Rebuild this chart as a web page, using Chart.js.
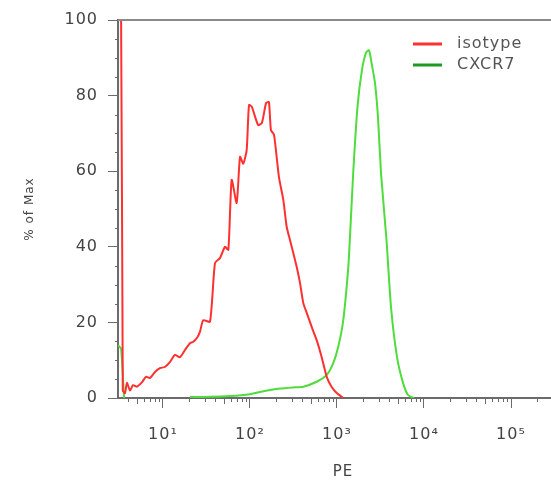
<!DOCTYPE html>
<html>
<head>
<meta charset="utf-8">
<script src="https://cdn.jsdelivr.net/npm/chart.js@4.4.0/dist/chart.umd.min.js"></script>
<style>
  html, body { margin: 0; padding: 0; background: #fff; overflow: hidden; }
</style>
</head>
<body>
<canvas id="chart" width="568" height="482"></canvas>
<script>
// PE intensity (x) and % of Max (y)
const isotypeX = [3.04, 3.3, 3.45, 3.66, 3.85, 4.18, 4.52, 5.03, 5.74, 6.38, 7.09, 8.09, 9.24, 10.5, 12.0, 13.7, 15.7, 17.9, 20.4, 22.1,
    24.4, 26.6, 29.0, 34.7, 39.6, 45.2, 51.6, 56.4, 61.6, 70.3, 76.8, 83.7, 91.6, 97.4, 105, 124, 137, 153, 165, 174,
    189, 215, 241.5, 264, 288, 315, 344, 376, 410, 449, 512, 584, 667, 762, 869, 993, 1181];
const isotypeY = [100, 100, 2, 1.3, 4, 2, 3.4, 3, 4.2, 5.6, 5.3, 6.9, 7.9, 8.2, 9.5, 11.4, 10.8, 12.7, 14.5, 14.8,
    15.8, 17.5, 20.6, 20.2, 35.7, 37, 40, 39.2, 57.7, 51.6, 63.8, 62, 65.6, 77.5, 77, 72.2, 72.8, 78, 78.3, 70.9,
    69.6, 58.5, 52.4, 45.3, 41.8, 38.3, 34.7, 30.4, 25.1, 22.5, 18.8, 15.3, 10.8, 5.6, 2.9, 1.3, 0];

const cxcr7X = [3.04, 3.3, 3.57, 10, 20.4, 34.7, 58.9, 100, 130, 170, 221, 310, 410, 584, 762, 906, 1035, 1181, 1349, 1420,
    1540, 1720, 1937, 2154, 2333, 2524, 2734, 2958, 3206, 3707, 4178, 4898, 5740, 6548, 7680];
const cxcr7Y = [14, 13, 0, null, 0.3, 0.3, 0.5, 1, 1.6, 2.1, 2.5, 2.8, 3.0, 4.3, 6.1, 9.2, 13.6, 20.6, 34.7, 44,
    60, 77, 86.8, 91.3, 92, 88, 83.3, 74.3, 59.5, 41.8, 24, 10.8, 4, 0.8, 0];

const seriesNames = ["isotype", "CXCR7"];
const xTickValues = [10, 100, 1000, 10000, 100000];
const yTickValues = [0, 20, 40, 60, 80, 100];

const sup = { 1: "\u00b9", 2: "\u00b2", 3: "\u00b3", 4: "\u2074", 5: "\u2075" };
const axisColor = "#6b6b6b";
const fontFamily = "'DejaVu Sans', sans-serif";

function toPoints(xs, ys) {
    return xs.map((x, i) => ({ x: x, y: ys[i] }));
}

// minor tick marks, top frame line and the legend
const extras = {
    id: "extras",
    beforeDraw(chart) {
        chart.ctx.letterSpacing = "1px";
    },
    afterDraw(chart) {
        const ctx = chart.ctx;
        const area = chart.chartArea;
        const xs = chart.scales.x;
        const ys = chart.scales.y;
        ctx.save();
        ctx.strokeStyle = axisColor;
        ctx.lineWidth = 1;
        ctx.beginPath();
        for (let d = 0; d <= 5; d++) {
            for (let m = 2; m <= 9; m++) {
                const v = m * Math.pow(10, d);
                if (v < xs.min || v > xs.max) continue;
                const px = Math.round(xs.getPixelForValue(v)) + 0.5;
                ctx.moveTo(px, area.bottom);
                ctx.lineTo(px, area.bottom + (m === 5 ? 6 : 4));
            }
        }
        for (let v = 5; v < 100; v += 5) {
            if (v % 20 === 0) continue;
            const py = Math.round(ys.getPixelForValue(v)) + 0.5;
            ctx.moveTo(area.left, py);
            ctx.lineTo(area.left - 3, py);
        }
        ctx.stroke();

        ctx.strokeStyle = "#8a8a8a";
        ctx.lineWidth = 2;
        ctx.beginPath();
        ctx.moveTo(area.left, area.top);
        ctx.lineTo(chart.width, area.top);
        ctx.stroke();

        ctx.font = "16px " + fontFamily;
        ctx.textBaseline = "middle";
        ctx.fillStyle = "#555";
        chart.data.datasets.forEach((ds, i) => {
            const y = 44 + i * 21;
            ctx.strokeStyle = ds.legendColor;
            ctx.lineWidth = 3;
            ctx.beginPath();
            ctx.moveTo(413, y);
            ctx.lineTo(442, y);
            ctx.stroke();
            ctx.fillText(ds.label, 457, y);
        });
        ctx.restore();
    }
};

new Chart(document.getElementById("chart"), {
    type: "line",
    data: {
        datasets: [
            {
                label: seriesNames[0],
                data: toPoints(isotypeX, isotypeY),
                borderColor: "#ff3030",
                legendColor: "#ff3030",
                borderWidth: 2,
                pointRadius: 0,
                tension: 0.2
            },
            {
                label: seriesNames[1],
                data: toPoints(cxcr7X, cxcr7Y),
                borderColor: "#4fdc3c",
                legendColor: "#1e9a24",
                borderWidth: 2,
                pointRadius: 0,
                tension: 0.2,
                spanGaps: false
            }
        ]
    },
    options: {
        responsive: false,
        animation: false,
        layout: { padding: { top: 20, right: 0, bottom: 0, left: 0 } },
        plugins: { legend: { display: false }, tooltip: { enabled: false } },
        scales: {
            x: {
                type: "logarithmic",
                min: 3.04,
                max: 452000,
                afterBuildTicks(scale) {
                    scale.ticks = xTickValues.map(v => ({ value: v, major: true }));
                },
                afterFit(scale) { scale.height = 84; },
                ticks: {
                    autoSkip: false,
                    maxRotation: 0,
                    padding: 17,
                    color: "#444",
                    font: { family: fontFamily, size: 16 },
                    callback: v => "10" + sup[Math.round(Math.log10(v))]
                },
                grid: { drawOnChartArea: false, tickLength: 10, tickColor: axisColor, tickWidth: 1 },
                border: { color: axisColor, width: 2 },
                title: {
                    display: true,
                    text: "PE",
                    color: "#444",
                    font: { family: fontFamily, size: 15 },
                    padding: { top: 0, bottom: 1 }
                }
            },
            y: {
                min: 0,
                max: 100,
                afterBuildTicks(scale) {
                    scale.ticks = yTickValues.map(v => ({ value: v }));
                },
                afterFit(scale) { scale.width = 118; },
                ticks: {
                    padding: 10,
                    color: "#444",
                    font: { family: fontFamily, size: 16 }
                },
                grid: { drawOnChartArea: false, tickLength: 10, tickColor: axisColor, tickWidth: 1 },
                border: { color: axisColor, width: 2 },
                title: {
                    display: true,
                    text: "% of Max",
                    color: "#444",
                    font: { family: fontFamily, size: 12 },
                    padding: { top: 23, bottom: 0 }
                }
            }
        }
    },
    plugins: [extras]
});
</script>
</body>
</html>
